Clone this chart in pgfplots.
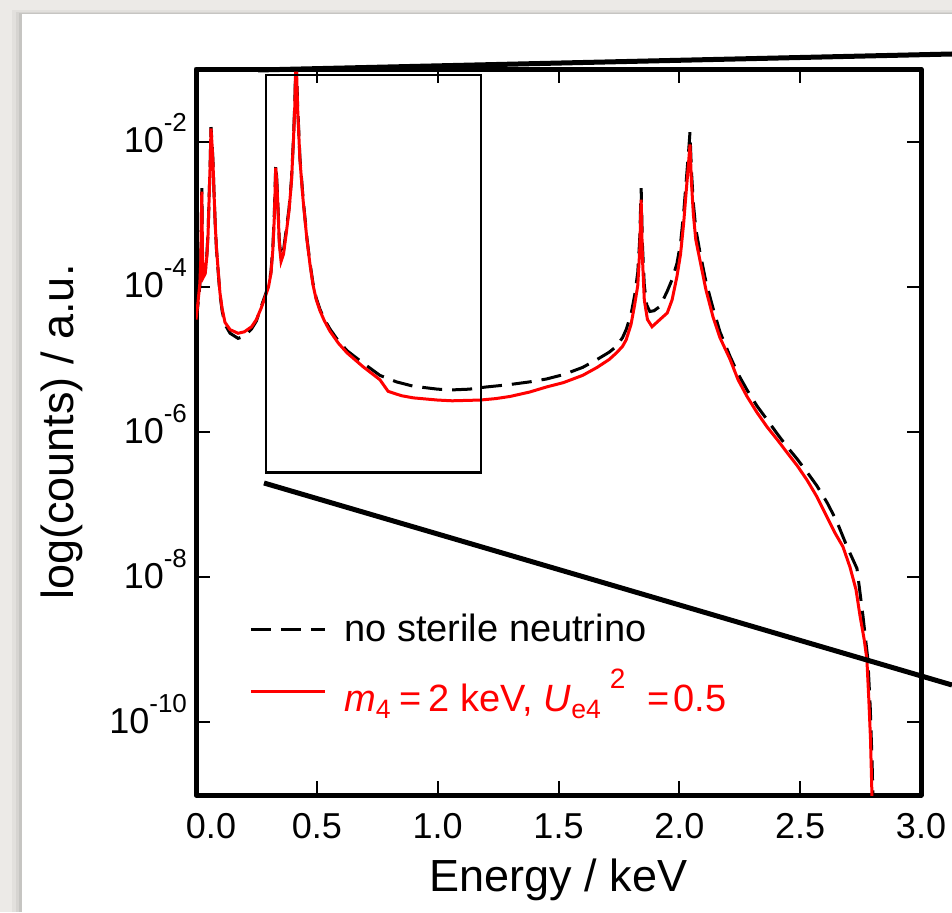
\documentclass[border=0pt]{standalone}
\usepackage{fontspec}
\setmainfont{Liberation Sans}
\usepackage{pgfplots}
\usepackage{pgfplotstable}
\pgfplotsset{compat=1.18}
\definecolor{bggrey}{RGB}{236,234,231}

\pgfplotstableread{
E L
0.000 -4.48
0.008 -4.25
0.016 -3.98
0.020 -3.65
0.024 -2.64
0.027 -3.55
0.030 -3.84
0.038 -3.80
0.045 -3.55
0.050 -3.25
0.055 -2.68
0.059 -2.25
0.062 -1.80
0.066 -2.00
0.070 -2.25
0.075 -2.75
0.080 -3.17
0.085 -3.50
0.091 -3.76
0.099 -4.10
0.108 -4.33
0.120 -4.52
0.141 -4.64
0.174 -4.71
0.200 -4.68
0.230 -4.58
0.250 -4.47
0.270 -4.27
0.285 -4.13
0.300 -3.98
0.310 -3.80
0.318 -3.45
0.324 -3.00
0.330 -2.32
0.334 -2.50
0.338 -2.80
0.345 -3.38
0.352 -3.58
0.362 -3.50
0.372 -3.25
0.385 -2.92
0.395 -2.52
0.403 -1.98
0.409 -1.45
0.414 -0.72
0.420 -1.45
0.430 -2.22
0.443 -2.78
0.459 -3.33
0.472 -3.68
0.484 -3.95
0.497 -4.15
0.513 -4.31
0.530 -4.44
0.554 -4.58
0.590 -4.75
0.625 -4.88
0.691 -5.05
0.761 -5.22
0.830 -5.31
0.900 -5.37
1.000 -5.41
1.060 -5.42
1.130 -5.41
1.200 -5.38
1.290 -5.35
1.380 -5.31
1.450 -5.27
1.520 -5.21
1.600 -5.11
1.660 -5.00
1.710 -4.90
1.740 -4.82
1.765 -4.70
1.780 -4.59
1.800 -4.38
1.815 -4.12
1.828 -3.80
1.836 -3.35
1.842 -2.64
1.847 -3.40
1.855 -3.98
1.865 -4.25
1.878 -4.34
1.895 -4.33
1.920 -4.27
1.950 -4.06
1.970 -3.90
1.990 -3.68
2.005 -3.40
2.018 -2.98
2.030 -2.48
2.038 -2.15
2.044 -1.87
2.050 -2.40
2.058 -2.85
2.068 -3.20
2.085 -3.52
2.110 -3.93
2.139 -4.29
2.168 -4.62
2.210 -4.96
2.243 -5.20
2.280 -5.42
2.321 -5.64
2.363 -5.83
2.404 -6.02
2.445 -6.20
2.487 -6.37
2.528 -6.55
2.569 -6.74
2.611 -6.97
2.650 -7.22
2.694 -7.58
2.735 -7.88
2.760 -8.54
2.780 -9.13
2.790 -9.80
2.798 -10.60
2.803 -11.30
}\nosterile

\pgfplotstableread{
E L
0.000 -4.45
0.008 -4.22
0.016 -3.95
0.020 -3.62
0.024 -2.69
0.027 -3.58
0.030 -3.87
0.038 -3.82
0.045 -3.58
0.050 -3.27
0.055 -2.70
0.059 -2.27
0.062 -1.82
0.066 -2.02
0.070 -2.27
0.075 -2.75
0.080 -3.17
0.085 -3.48
0.091 -3.74
0.099 -4.08
0.108 -4.30
0.120 -4.49
0.141 -4.59
0.174 -4.64
0.200 -4.62
0.230 -4.55
0.250 -4.45
0.270 -4.29
0.285 -4.15
0.300 -4.00
0.310 -3.82
0.318 -3.49
0.324 -3.05
0.330 -2.36
0.334 -2.55
0.338 -2.82
0.345 -3.42
0.352 -3.65
0.362 -3.55
0.372 -3.30
0.385 -2.95
0.395 -2.55
0.403 -2.00
0.409 -1.50
0.414 -0.77
0.420 -1.50
0.430 -2.25
0.443 -2.80
0.459 -3.35
0.472 -3.70
0.484 -3.97
0.497 -4.17
0.513 -4.33
0.530 -4.46
0.554 -4.61
0.590 -4.78
0.625 -4.91
0.691 -5.10
0.761 -5.28
0.795 -5.44
0.850 -5.50
0.900 -5.53
1.000 -5.56
1.060 -5.57
1.175 -5.56
1.240 -5.54
1.300 -5.51
1.380 -5.45
1.450 -5.38
1.520 -5.32
1.600 -5.22
1.660 -5.11
1.710 -5.00
1.740 -4.91
1.765 -4.82
1.780 -4.73
1.800 -4.52
1.815 -4.25
1.828 -3.98
1.836 -3.50
1.842 -2.80
1.847 -3.58
1.855 -4.18
1.868 -4.45
1.887 -4.55
1.910 -4.48
1.950 -4.36
1.970 -4.18
1.990 -3.86
2.005 -3.55
2.018 -3.12
2.030 -2.62
2.038 -2.30
2.044 -2.04
2.050 -2.55
2.058 -3.00
2.068 -3.35
2.085 -3.63
2.110 -4.04
2.139 -4.41
2.168 -4.70
2.210 -5.00
2.243 -5.28
2.280 -5.51
2.321 -5.73
2.363 -5.93
2.404 -6.10
2.445 -6.28
2.487 -6.46
2.528 -6.66
2.569 -6.89
2.611 -7.17
2.644 -7.39
2.677 -7.58
2.706 -7.86
2.731 -8.17
2.748 -8.54
2.765 -8.86
2.776 -9.13
2.784 -9.68
2.791 -10.23
2.797 -11.00
2.799 -11.30
}\sterile

\newcommand{\tenpow}[1]{10\raisebox{0.58em}{\fontsize{13}{13}\selectfont #1}}

\begin{document}
\begin{tikzpicture}[x=0.5pt,y=0.5pt]
\useasboundingbox (0,0) rectangle (952,912);
\fill[bggrey] (0,0) rectangle (952,912);
\fill[black,opacity=0.04] (12,0) rectangle (952,902);
\fill[black,opacity=0.05] (16,0) rectangle (952,900);
\fill[black,opacity=0.07] (19,0) rectangle (952,899);
\fill[white] (22,0) rectangle (952,898);

\begin{axis}[
  at={(98pt,58.5pt)}, anchor=south west,
  scale only axis, width=362.5pt, height=363pt,
  xmin=0, xmax=3, ymin=-11, ymax=-1,
  axis line style={line width=2.5pt, line cap=round, line join=round},
  tick style={line width=1pt, black},
  major tick length=7pt,
  tick align=inside,
  xtick={0,0.5,1,1.5,2,2.5,3},
  xticklabels={\hspace{15pt}0.0,0.5,1.0,1.5,2.0,2.5,3.0},
  ytick={-10,-8,-6,-4,-2},
  yticklabels={\tenpow{-10},\tenpow{-8},\tenpow{-6},\tenpow{-4},\tenpow{-2}},
  minor tick num=0,
  tick label style={font=\fontsize{18}{20}\selectfont},
  xticklabel style={anchor=base, yshift=-21.5pt},
  yticklabel style={anchor=base east, yshift=-5.5pt, xshift=-1pt},
  xlabel={Energy / keV},
  ylabel={log(counts) / a.u.},
  label style={font=\fontsize{22.5}{26}\selectfont},
  xlabel style={at={(axis description cs:0.5,-0.117)}, anchor=center},
  ylabel style={at={(axis description cs:-0.185,0.5)}, anchor=center, rotate=0},
  legend cell align=left,
  legend style={draw=none, fill=none, font=\fontsize{19}{20}\selectfont,
    at={(axis description cs:0.073,0.255)}, anchor=north west,
    row sep=8pt, inner sep=0pt,
    /tikz/every odd column/.append style={column sep=7pt}},
  legend image code/.code={\draw[#1] (0pt,0pt) -- (37pt,0pt);},
  clip=true,
]
\addplot[black, line width=1.5pt, dash pattern=on 10pt off 5pt] table[x=E,y=L] {\nosterile};
\addlegendentry{no sterile neutrino}
\addplot[red, line width=1.5pt] table[x=E,y=L] {\sterile};
\addlegendentry{\textcolor{red}{\textit{m}\textsubscript{4}\hspace{4pt}=\hspace{3.5pt}2 keV, \textit{U}\textsubscript{e4}\hspace{4pt}\raisebox{0.62em}{\fontsize{14}{14}\selectfont 2}\hspace{11pt}=\hspace{2pt}0.5}}
\draw[black, line width=1.2pt] (axis cs:0.290,-1.08) rectangle (axis cs:1.179,-6.56);
\end{axis}

\draw[black, line width=2.5pt] (258,842) -- (952,858);
\draw[black, line width=2.5pt] (264,429) -- (952,227);
\end{tikzpicture}
\end{document}
